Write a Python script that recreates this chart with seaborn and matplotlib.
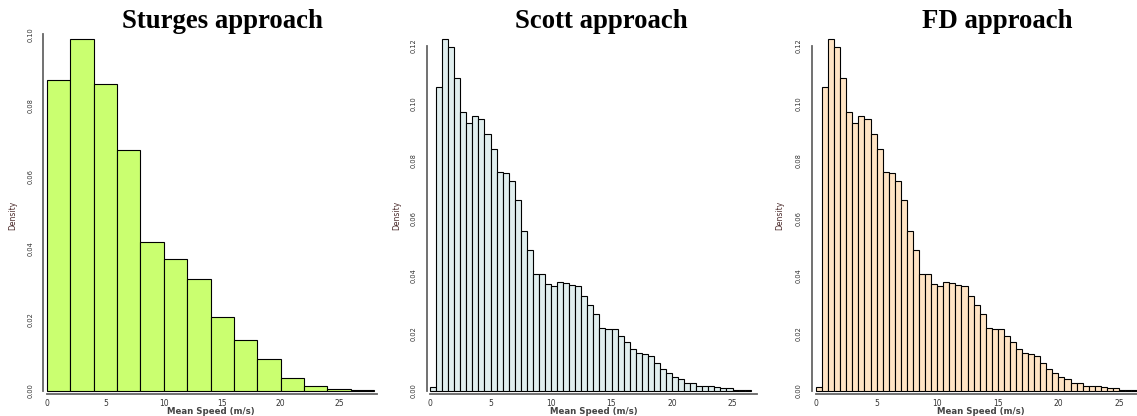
import numpy as np
import pandas as pd
import matplotlib
matplotlib.use("Agg")
import matplotlib.pyplot as plt
import seaborn as sns

# ---------------- data ----------------
sturges_edges = [0, 2, 4, 6, 8, 10, 12, 14, 16, 18, 20, 22, 24, 26, 28]
sturges_density = [0.0871, 0.0986, 0.0860, 0.0676, 0.0417, 0.0371, 0.0313,
                   0.0208, 0.0142, 0.0089, 0.0036, 0.0015, 0.0007, 0.0002]

scott_width = 0.5
scott_density = [0.0013, 0.1055, 0.1222, 0.1195, 0.1088, 0.0968, 0.0932, 0.0954,
                 0.0944, 0.0892, 0.0841, 0.0762, 0.0759, 0.0730, 0.0665, 0.0555,
                 0.0491, 0.0405, 0.0408, 0.0371, 0.0364, 0.0378, 0.0375, 0.0368,
                 0.0365, 0.0330, 0.0298, 0.0269, 0.0220, 0.0214, 0.0214, 0.0192,
                 0.0169, 0.0147, 0.0133, 0.0127, 0.0120, 0.0096, 0.0078, 0.0063,
                 0.0047, 0.0042, 0.0029, 0.0029, 0.0017, 0.0019, 0.0016, 0.0013,
                 0.0010, 0.0012, 0.0003, 0.0002, 0.0002]

fd_width = 0.5
fd_density = [0.0013, 0.1055, 0.1222, 0.1195, 0.1088, 0.0968, 0.0932, 0.0954,
              0.0944, 0.0892, 0.0841, 0.0762, 0.0759, 0.0730, 0.0665, 0.0555,
              0.0491, 0.0405, 0.0408, 0.0371, 0.0364, 0.0378, 0.0375, 0.0368,
              0.0365, 0.0330, 0.0298, 0.0269, 0.0220, 0.0214, 0.0214, 0.0192,
              0.0169, 0.0147, 0.0133, 0.0127, 0.0120, 0.0096, 0.0078, 0.0063,
              0.0047, 0.0042, 0.0029, 0.0029, 0.0017, 0.0019, 0.0016, 0.0013,
              0.0010, 0.0012, 0.0003, 0.0002, 0.0002]

titles = ["Sturges approach", "Scott approach", "FD approach"]
x_label = "Mean Speed (m/s)"
y_label = "Density"
x_ticks = [0, 5, 10, 15, 20, 25]
y_ticks_sturges = [0.00, 0.02, 0.04, 0.06, 0.08, 0.10]
y_ticks_other = [0.00, 0.02, 0.04, 0.06, 0.08, 0.10, 0.12]
colors = ["#CAFF70", "#E0EEEE", "#FFE4C4"]

# ---------------- figure ----------------
sns.set_style("white")
W, H = 1137, 416
fig = plt.figure(figsize=(W / 100, H / 100), dpi=100)

def edges_from_width(n, w):
    return [float(k * w) for k in range(n + 1)]

panels = [
    dict(edges=[float(e) for e in sturges_edges], dens=sturges_density, yt=y_ticks_sturges,
         x0=47.0, ppu=11.68, left=43.0, right=377.5, y0=391.0, ppuy=3567.0, top=30.0,
         title_x=222, xlab_x=211, ylab_x=13),
    dict(edges=edges_from_width(len(scott_density), scott_width), dens=scott_density,
         yt=y_ticks_other, x0=430.0, ppu=12.1, left=426.7, right=757.0, y0=391.0,
         ppuy=2877.5, top=36.0, title_x=601.5, xlab_x=593.5, ylab_x=397),
    dict(edges=edges_from_width(len(fd_density), fd_width), dens=fd_density,
         yt=y_ticks_other, x0=816.0, ppu=12.12, left=811.7, right=1136.5, y0=391.0,
         ppuy=2877.5, top=36.0, title_x=997.5, xlab_x=981, ylab_x=780),
]

bottom_px = 394.0
for i, p in enumerate(panels):
    l, r, t, b = p["left"], p["right"], p["top"], bottom_px
    ax = fig.add_axes([l / W, 1 - b / H, (r - l) / W, (b - t) / H])
    edges = p["edges"]
    mids = [(edges[k] + edges[k + 1]) / 2 for k in range(len(edges) - 1)]
    df = pd.DataFrame({"x": mids, "w": p["dens"]})
    sns.histplot(data=df, x="x", weights="w", bins=edges, stat="count",
                 color=colors[i], edgecolor="black", linewidth=0.8, alpha=1.0, ax=ax)
    ax.set_xlim((l - p["x0"]) / p["ppu"], (r - p["x0"]) / p["ppu"])
    ax.set_ylim((p["y0"] - b) / p["ppuy"], (p["y0"] - t) / p["ppuy"])

    for s in ["top", "right"]:
        ax.spines[s].set_visible(False)
    ax.spines["left"].set_bounds(0, p["yt"][-1])
    ax.spines["bottom"].set_bounds(0, ax.get_xlim()[1])
    for s in ["left", "bottom"]:
        ax.spines[s].set_color("#666666")
        ax.spines[s].set_linewidth(1.3)

    ax.set_xticks(x_ticks)
    ax.set_xticklabels([str(v) for v in x_ticks])
    ax.set_yticks(p["yt"])
    ax.set_yticklabels([f"{v:.2f}" for v in p["yt"]], rotation=90, va="center")
    ax.tick_params(axis="both", direction="out", width=1, color="#666666",
                   labelcolor="#333333")
    ax.tick_params(axis="x", length=3, labelsize=5.5, pad=0.5)
    ax.tick_params(axis="y", length=4, labelsize=4.8, pad=3)

    ax.set_xlabel(x_label, fontsize=6.2, color="#444444", fontweight="bold")
    ax.xaxis.set_label_coords((p["xlab_x"] - l) / (r - l), (b - 411.5) / (b - t))
    ax.xaxis.label.set_va("center")
    ax.set_ylabel(y_label, fontsize=5.5, color="#4a2a2a")
    ax.yaxis.set_label_coords((p["ylab_x"] - l) / (r - l), (b - 215.5) / (b - t))
    ax.yaxis.label.set_va("center")

    fig.text(p["title_x"] / W, 1 - 28.5 / H, titles[i], ha="center", va="baseline",
             fontsize=19.3, fontweight="bold", family="Liberation Serif", color="black")

fig.savefig("out.png", dpi=100)
